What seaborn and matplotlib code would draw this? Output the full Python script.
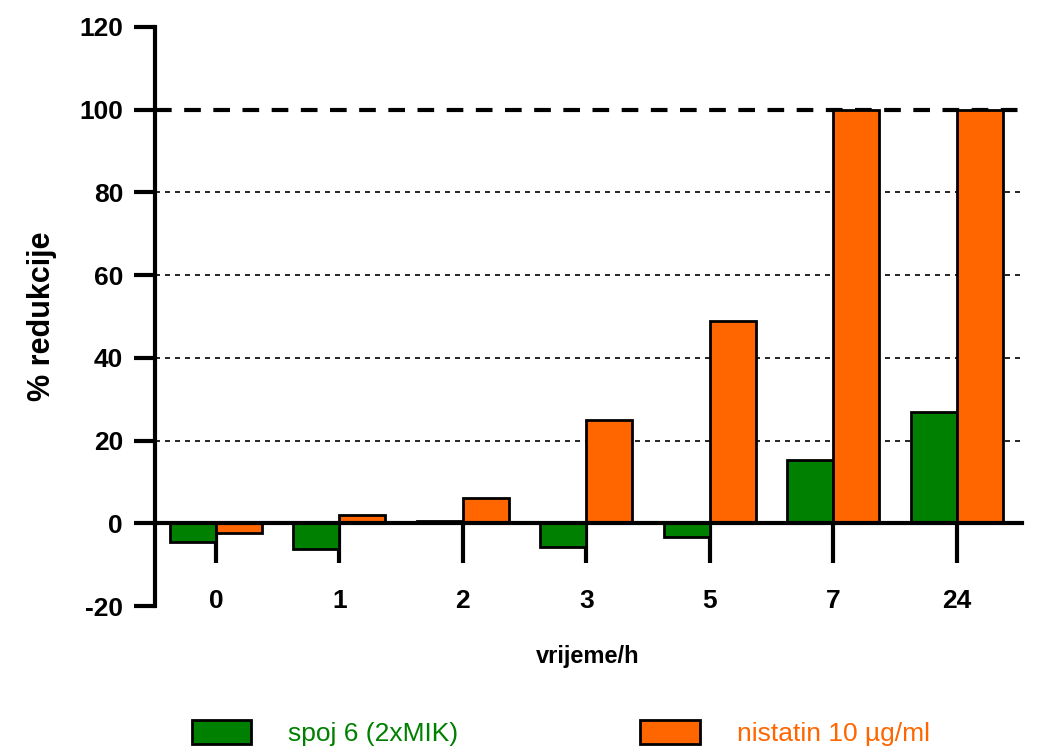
import pandas as pd
import seaborn as sns
from matplotlib import pyplot as plt
from matplotlib.patches import Patch

sns.set_style("white")
plt.rcParams['font.family'] = ['Liberation Sans', 'DejaVu Sans']
plt.rcParams['axes.unicode_minus'] = False
for k in ['text.color', 'axes.labelcolor', 'xtick.color', 'ytick.color', 'axes.edgecolor']:
    plt.rcParams[k] = 'black'

times = ['0', '1', '2', '3', '5', '7', '24']
spoj6 = [-4.5, -6.2, 0.5, -5.8, -3.2, 15.2, 27.0]
nistatin = [-2.3, 2.0, 6.0, 25.0, 49.0, 100.0, 100.0]
series = ['spoj 6 (2xMIK)', 'nistatin 10 µg/ml']
colors = ['#008000', '#FF6600']

df = pd.DataFrame({
    'vrijeme': times * 2,
    'redukcija': spoj6 + nistatin,
    'serija': [series[0]] * len(times) + [series[1]] * len(times),
})

fig = plt.figure(figsize=(10.38, 7.54), dpi=100)
ax = fig.add_axes([155 / 1038, 1 - 606 / 754, (1022 - 155) / 1038, (606 - 27) / 754])

# grid lines first so bars sit on top
for y in [20, 40, 60, 80]:
    ax.axhline(y, color='black', lw=1.2, ls=(0, (3, 3)), zorder=0)
ax.axhline(100, color='black', lw=3, ls=(0, (4, 3)), zorder=0)

sns.barplot(data=df, x='vrijeme', y='redukcija', hue='serija', order=times,
            hue_order=series, palette=colors, width=0.745, edgecolor='black',
            linewidth=2, saturation=1, ax=ax, legend=False, zorder=2)

ax.set_xlim(-0.494, 6.53)
ax.set_ylim(-20, 120)
ax.set_yticks(range(-20, 121, 20))

for s in ['top', 'right']:
    ax.spines[s].set_visible(False)
ax.spines['bottom'].set_position(('data', 0))
ax.spines['bottom'].set_linewidth(3)
ax.spines['left'].set_linewidth(3)
ax.spines['bottom'].set_zorder(3)

ax.tick_params(axis='y', direction='out', length=15, width=3, pad=8,
               labelsize=19, left=True)
ax.tick_params(axis='x', direction='out', length=29, width=3, pad=18,
               labelsize=19, bottom=True)
for lab in ax.get_xticklabels() + ax.get_yticklabels():
    lab.set_fontweight('bold')

ax.set_xlabel('')
ax.set_ylabel('% redukcije', fontsize=22, fontweight='bold', labelpad=16)
fig.text(588 / 1038, 1 - 657 / 754, 'vrijeme/h', ha='center', va='center',
         fontsize=17, fontweight='bold')

handles = [Patch(facecolor=c, edgecolor='black', linewidth=2) for c in colors]
leg = fig.legend(handles, series, loc='center left', ncol=2, frameon=False,
                 bbox_to_anchor=(168 / 1038, 1 - 733 / 754), fontsize=19,
                 handlelength=2.25, handleheight=1.0, handletextpad=1.4,
                 columnspacing=6.9)
for t, c in zip(leg.get_texts(), colors):
    t.set_color(c)

fig.savefig('out.png', dpi=100)
